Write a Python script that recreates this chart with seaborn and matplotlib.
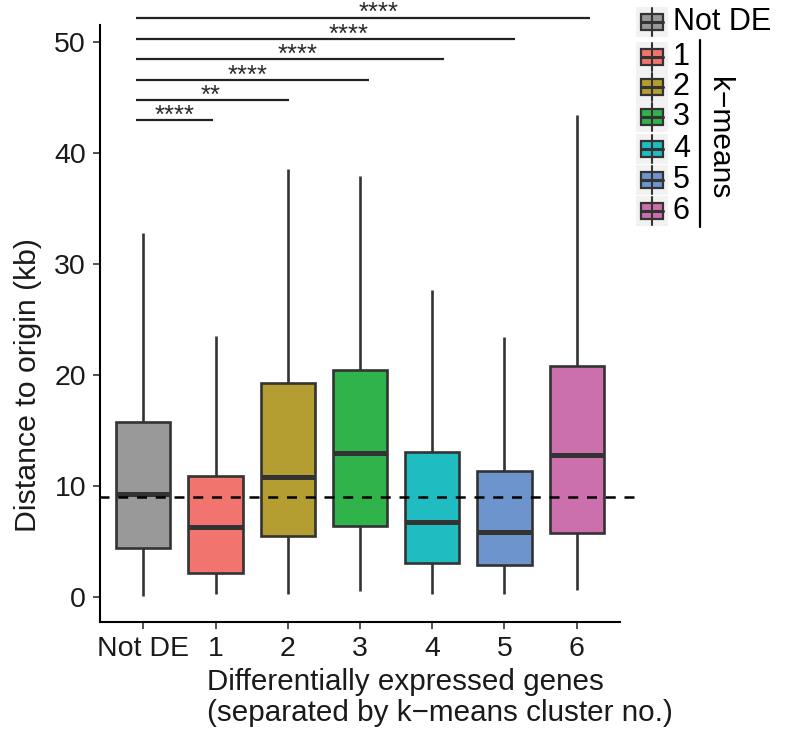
import numpy as np
import pandas as pd
import matplotlib
matplotlib.use("Agg")
import matplotlib.pyplot as plt
from matplotlib.patches import Rectangle
import seaborn as sns

# ---- data ----
categories = ["Not DE", "1", "2", "3", "4", "5", "6"]
whisker_low = [0.1, 0.3, 0.3, 0.55, 0.25, 0.3, 0.6]
q1 = [4.4, 2.2, 5.5, 6.4, 3.1, 2.9, 5.75]
median = [9.25, 6.3, 10.8, 12.95, 6.8, 5.85, 12.8]
q3 = [15.8, 10.9, 19.25, 20.45, 13.05, 11.35, 20.8]
whisker_high = [32.8, 23.5, 38.6, 37.9, 27.7, 23.4, 43.4]
colors = ["#999999", "#F1756E", "#B49E31", "#31B34B", "#1FBDC2", "#6E94CE", "#CB70AD"]

ref_line = 9.0

sig_y = [43.0, 44.8, 46.6, 48.5, 50.3, 52.2]
sig_start = [-0.10, -0.10, -0.10, -0.10, -0.10, -0.10]
sig_end = [0.97, 2.02, 3.13, 4.16, 5.14, 6.18]
sig_labels = ["****", "**", "****", "****", "****", "****"]
sig_label_x = [0.43, 0.93, 1.45, 2.14, 2.84, 3.26]

legend_labels = ["Not DE", "1", "2", "3", "4", "5", "6"]

# ---- long table ----
rows = []
for c, a, b, m, d, e in zip(categories, whisker_low, q1, median, q3, whisker_high):
    for v in (a, b, m, d, e):
        rows.append({"cluster": c, "dist": v})
df = pd.DataFrame(rows)

sns.set_style("white")
plt.rcParams["font.family"] = ["Liberation Sans", "DejaVu Sans"]

W, H = 787, 735
fig = plt.figure(figsize=(W / 100, H / 100), dpi=100)
ax = fig.add_axes([100 / W, 1 - 622 / H, 520 / W, (622 - 25) / H])

pal = dict(zip(categories, colors))
sns.boxplot(data=df, x="cluster", y="dist", hue="cluster", palette=pal, order=categories,
            hue_order=categories, whis=(0, 100), width=0.75, saturation=1,
            linewidth=1.9, linecolor="#333333", showfliers=False, legend=False,
            medianprops=dict(linewidth=3.6, color="#333333"),
            whiskerprops=dict(linewidth=1.9),
            capprops=dict(linewidth=0), ax=ax)

ax.set_xlim(-0.6, 6.6)
ax.set_ylim(-2.25, 51.53)
ax.set_yticks([0, 10, 20, 30, 40, 50])
ax.set_xticks(range(len(categories)))
ax.set_xticklabels(categories)
for s in ["top", "right"]:
    ax.spines[s].set_visible(False)
for s in ["left", "bottom"]:
    ax.spines[s].set_linewidth(1.5)
    ax.spines[s].set_color("black")
ax.tick_params(axis="both", which="both", direction="out", length=5, width=1.2,
               color="#333333", labelsize=20.5, labelcolor="#1a1a1a", pad=5,
               left=True, bottom=True)
ax.set_xlabel("")
ax.set_ylabel("")

# reference dashed line
ax.plot([-0.61, 6.87], [ref_line, ref_line], color="black", lw=1.8,
        dashes=(4, 3.5), clip_on=False, zorder=5)

# significance bars
for y0, xs, xe, lab, lx in zip(sig_y, sig_start, sig_end, sig_labels, sig_label_x):
    ax.plot([xs, xe], [y0, y0], color="#222222", lw=1.6, clip_on=False,
            solid_capstyle="butt")
    ax.text(lx, y0 - 0.25, lab, ha="center", va="baseline", fontsize=18.5,
            color="#2a2a2a")

# axis titles
fig.text(207 / W, 1 - 668 / H, "Differentially expressed genes\n(separated by k\u2212means cluster no.)",
         ha="left", va="top", fontsize=21.3, color="#1a1a1a", linespacing=1.15,
         multialignment="left")
fig.text(28 / W, 1 - 385 / H, "Distance to origin (kb)", rotation=90, ha="center",
         va="center", fontsize=21.8, color="#1a1a1a")

# legend (drawn in pixel coordinates)
lax = fig.add_axes([0, 0, 1, 1])
lax.set_xlim(0, W)
lax.set_ylim(H, 0)
lax.axis("off")
key_y = [21.5, 56.5, 86.5, 117, 148.5, 180, 211]
for ky, col, lab in zip(key_y, colors, legend_labels):
    lax.add_patch(Rectangle((636, ky - 15), 32, 30, facecolor="#F2F2F2", edgecolor="none"))
    lax.plot([652, 652], [ky - 14, ky + 14], color="#333333", lw=1.5)
    lax.add_patch(Rectangle((641, ky - 8), 22, 16, facecolor=col, edgecolor="#333333", lw=1.6))
    lax.plot([641, 663], [ky, ky], color="#333333", lw=2.2)
    lax.text(673, ky, lab, ha="left", va="center", fontsize=22, color="black")
lax.plot([700, 700], [40, 227], color="black", lw=1.6)
lax.text(719, 138, "k\u2212means", rotation=270, ha="center", va="center",
         fontsize=21.5, color="black")

fig.savefig("out.png", dpi=100)
